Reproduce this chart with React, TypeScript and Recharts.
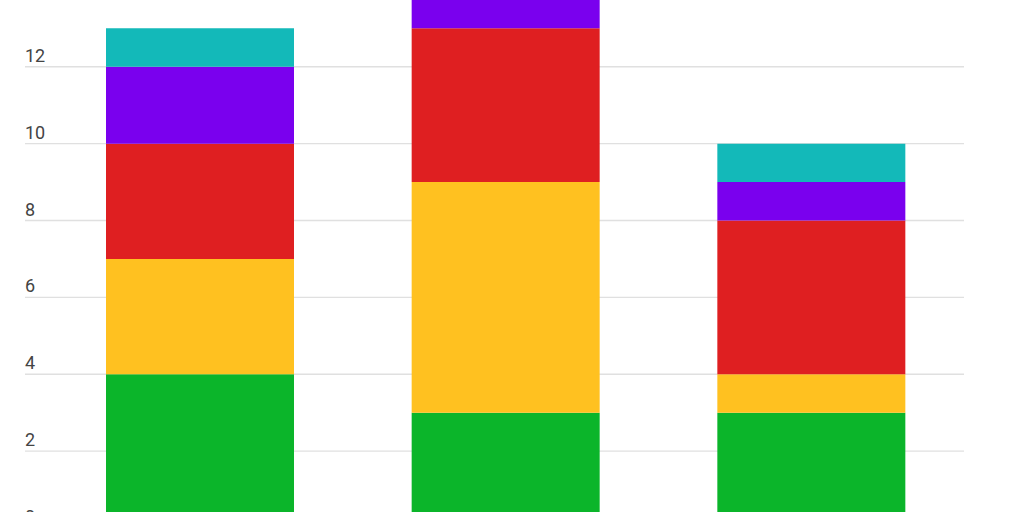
import React from 'react';
import { BarChart, Bar, XAxis, YAxis, CartesianGrid } from 'recharts';

// categories and stacked series, bottom to top
const categories = ['A', 'B', 'C'];
const green = [4, 3, 3];
const yellow = [3, 6, 1];
const red = [3, 4, 4];
const purple = [2, 2, 1];
const teal = [1, 1, 1];
const yTicks = [0, 2, 4, 6, 8, 10, 12];

const data = categories.map((name, i) => ({
  name,
  green: green[i],
  yellow: yellow[i],
  red: red[i],
  purple: purple[i],
  teal: teal[i],
}));

const renderYTick = (props: any) => {
  const { y, payload } = props;
  return (
    <text key={payload.value} x={25} y={y - 5} textAnchor="start" fill="#444" fontSize={18} fontFamily="Roboto">
      {payload.value}
    </text>
  );
};

const App = () => {
  return (
    <div style={{ position: 'fixed', left: 0, top: 0, width: 1024, height: 512, overflow: 'hidden', background: '#fff' }}>
      <div style={{ position: 'absolute', left: 0, top: -87 }}>
        <BarChart
          width={1024}
          height={635}
          data={data}
          margin={{ top: 0, right: 60, bottom: 20, left: 24 }}
        >
          <CartesianGrid vertical={false} stroke="#e0e0e0" strokeWidth={1.3} />
          <XAxis dataKey="name" hide padding={{ left: 22, right: 0 }} />
          <YAxis
            width={1}
            domain={[0, 16]}
            ticks={yTicks}
            interval={0}
            axisLine={false}
            tickLine={false}
            tick={renderYTick}
          />
          <Bar dataKey="green" stackId="a" fill="#0BB52A" barSize={188} isAnimationActive={false} />
          <Bar dataKey="yellow" stackId="a" fill="#FFC120" barSize={188} isAnimationActive={false} />
          <Bar dataKey="red" stackId="a" fill="#DF1F21" barSize={188} isAnimationActive={false} />
          <Bar dataKey="purple" stackId="a" fill="#7A00EE" barSize={188} isAnimationActive={false} />
          <Bar dataKey="teal" stackId="a" fill="#13B9B9" barSize={188} isAnimationActive={false} />
        </BarChart>
      </div>
    </div>
  );
};

export default App;
